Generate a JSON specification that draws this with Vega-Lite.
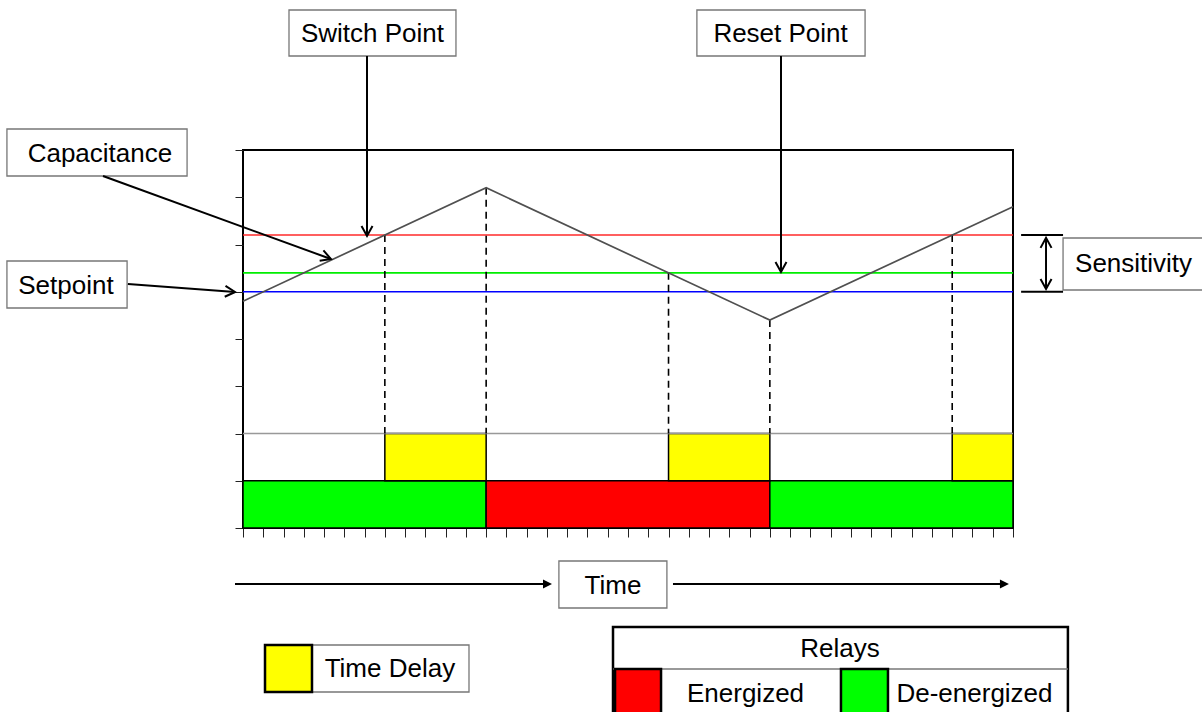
{
  "$schema": "https://vega.github.io/schema/vega-lite/v6.json",
  "width": 770,
  "height": 378,
  "autosize": {"type": "none"},
  "padding": {"left": 243, "top": 150, "right": 189, "bottom": 184},
  "background": "white",
  "config": {
    "view": {"stroke": "black", "strokeWidth": 2}
  },
  "datasets": {
    "curve": [{"t": 0, "c": 4.8}, {"t": 12, "c": 7.2}, {"t": 26, "c": 4.4}, {"t": 38, "c": 6.8}],
    "levels": [
      {"level": "Delay row", "v": 2},
      {"level": "Switch point", "v": 6.2},
      {"level": "Reset point", "v": 5.4},
      {"level": "Setpoint", "v": 5.0}
    ],
    "drops": [
      {"t": 7, "top": 6.2, "bot": 2},
      {"t": 12, "top": 7.2, "bot": 2},
      {"t": 21, "top": 5.4, "bot": 2},
      {"t": 26, "top": 4.4, "bot": 2},
      {"t": 35, "top": 6.2, "bot": 2}
    ],
    "bands": [
      {"t0": 0, "t1": 12, "y0": 0, "y1": 1, "state": "De-energized"},
      {"t0": 12, "t1": 26, "y0": 0, "y1": 1, "state": "Energized"},
      {"t0": 26, "t1": 38, "y0": 0, "y1": 1, "state": "De-energized"},
      {"t0": 7, "t1": 12, "y0": 1, "y1": 2, "state": "Time Delay"},
      {"t0": 21, "t1": 26, "y0": 1, "y1": 2, "state": "Time Delay"},
      {"t0": 35, "t1": 38, "y0": 1, "y1": 2, "state": "Time Delay"}
    ],
    "boxes": [
      {"name": "Switch Point", "x1": 2.27, "x2": 10.51, "y1": 9.989, "y2": 10.963},
      {"name": "Reset Point", "x1": 22.4, "x2": 30.7, "y1": 9.989, "y2": 10.963},
      {"name": "Capacitance", "x1": -11.65, "x2": -2.76, "y1": 7.45, "y2": 8.444},
      {"name": "Setpoint", "x1": -11.65, "x2": -5.72, "y1": 4.656, "y2": 5.651},
      {"name": "Sensitivity", "x1": 40.47, "x2": 47.8, "y1": 5.037, "y2": 6.138},
      {"name": "Time", "x1": 15.59, "x2": 20.92, "y1": -1.693, "y2": -0.698},
      {"name": "Time Delay", "x1": 3.405, "x2": 11.153, "y1": -3.471, "y2": -2.476}
    ],
    "relaybox": [{"x1": 18.26, "x2": 40.71, "y1": -4.0, "y2": -2.095}],
    "divider": [{"x1": 18.26, "x2": 40.71, "y": -2.984}],
    "swatches": [
      {"state": "Time Delay", "x1": 1.086, "x2": 3.405, "y1": -3.471, "y2": -2.476},
      {"state": "Energized", "x1": 18.36, "x2": 20.63, "y1": -4.0, "y2": -2.984},
      {"state": "De-energized", "x1": 29.51, "x2": 31.83, "y1": -4.0, "y2": -2.984}
    ],
    "arrows": [
      {"id": "switch", "x1": 6.12, "y1": 9.989, "x2": 6.12, "y2": 6.18},
      {"id": "reset", "x1": 26.55, "y1": 9.989, "x2": 26.55, "y2": 5.42},
      {"id": "capacitance", "x1": -6.91, "y1": 7.45, "x2": 4.34, "y2": 5.693},
      {"id": "setpoint", "x1": -5.68, "y1": 5.164, "x2": -0.39, "y2": 4.995},
      {"id": "sensitivity", "x1": 39.63, "y1": 6.14, "x2": 39.63, "y2": 5.06},
      {"id": "cap top", "x1": 38.4, "y1": 6.2, "x2": 40.47, "y2": 6.2},
      {"id": "cap bottom", "x1": 38.4, "y1": 5.0, "x2": 40.47, "y2": 5.0},
      {"id": "time left", "x1": -0.395, "y1": -1.185, "x2": 15.0, "y2": -1.185},
      {"id": "time right", "x1": 21.22, "y1": -1.185, "x2": 37.55, "y2": -1.185}
    ],
    "heads": [
      {"kind": "down", "x": 6.12, "y": 6.18},
      {"kind": "down", "x": 26.55, "y": 5.42},
      {"kind": "down", "x": 39.63, "y": 5.06},
      {"kind": "up", "x": 39.63, "y": 6.14},
      {"kind": "capacitance", "x": 4.34, "y": 5.693},
      {"kind": "setpoint", "x": -0.39, "y": 4.995},
      {"kind": "time", "x": 15.25, "y": -1.185},
      {"kind": "time", "x": 37.8, "y": -1.185}
    ],
    "labels": [
      {"text": "Switch Point", "x": 6.39, "y": 10.45},
      {"text": "Reset Point", "x": 26.53, "y": 10.45},
      {"text": "Capacitance", "x": -7.06, "y": 7.92},
      {"text": "Setpoint", "x": -8.74, "y": 5.13},
      {"text": "Sensitivity", "x": 43.95, "y": 5.58},
      {"text": "Time", "x": 18.26, "y": -1.22},
      {"text": "Time Delay", "x": 7.25, "y": -2.99},
      {"text": "Relays", "x": 29.46, "y": -2.57},
      {"text": "Energized", "x": 24.8, "y": -3.52},
      {"text": "De-energized", "x": 36.1, "y": -3.52}
    ]
  },
  "layer": [
    {
      "data": {"name": "bands"},
      "mark": {"type": "rect", "stroke": "black", "strokeWidth": 1.5},
      "encoding": {
        "x": {"field": "t0", "type": "quantitative",
              "scale": {"domain": [0, 38], "nice": false, "zero": false},
              "axis": {"values": [0,1,2,3,4,5,6,7,8,9,10,11,12,13,14,15,16,17,18,19,20,21,22,23,24,25,26,27,28,29,30,31,32,33,34,35,36,37,38],
                       "tickCount": 60, "tickSize": 9, "labels": false, "grid": false, "title": null, "domain": false, "ticks": true, "tickColor": "#222222", "tickWidth": 1}},
        "x2": {"field": "t1"},
        "y": {"field": "y0", "type": "quantitative",
              "scale": {"domain": [0, 8], "nice": false, "zero": false},
              "axis": {"values": [0,1,2,3,4,5,6,7,8], "tickCount": 20, "tickSize": 8, "labels": false, "grid": false, "title": null, "domain": false, "ticks": true, "tickColor": "#222222", "tickWidth": 1}},
        "y2": {"field": "y1"},
        "fill": {"field": "state", "type": "nominal",
                 "scale": {"domain": ["Time Delay", "Energized", "De-energized"], "range": ["#ffff00", "#ff0000", "#00ff00"]},
                 "legend": null}
      }
    },
    {
      "data": {"name": "levels"},
      "mark": {"type": "rule"},
      "encoding": {
        "y": {"field": "v", "type": "quantitative"},
        "stroke": {"field": "level", "type": "nominal",
                   "scale": {"domain": ["Delay row", "Switch point", "Reset point", "Setpoint"], "range": ["#999999", "#ff2a2a", "#00ee00", "#0000ff"]},
                   "legend": null},
        "strokeWidth": {"field": "level", "type": "nominal",
                   "scale": {"domain": ["Delay row", "Switch point", "Reset point", "Setpoint"], "range": [1.5, 1.6, 2.8, 1.8]},
                   "legend": null}
      }
    },
    {
      "data": {"name": "drops"},
      "mark": {"type": "rule", "color": "black", "strokeWidth": 1.6, "strokeDash": [7, 5]},
      "encoding": {
        "x": {"field": "t", "type": "quantitative"},
        "y": {"field": "top", "type": "quantitative"},
        "y2": {"field": "bot"}
      }
    },
    {
      "data": {"name": "curve"},
      "mark": {"type": "line", "color": "#505050", "strokeWidth": 1.7},
      "encoding": {
        "x": {"field": "t", "type": "quantitative"},
        "y": {"field": "c", "type": "quantitative"}
      }
    },
    {
      "data": {"name": "boxes"},
      "mark": {"type": "rect", "fill": "white", "stroke": "#777777", "strokeWidth": 1.3},
      "encoding": {
        "x": {"field": "x1", "type": "quantitative"},
        "x2": {"field": "x2"},
        "y": {"field": "y1", "type": "quantitative"},
        "y2": {"field": "y2"}
      }
    },
    {
      "data": {"name": "relaybox"},
      "mark": {"type": "rect", "fill": "white", "stroke": "black", "strokeWidth": 2.5},
      "encoding": {
        "x": {"field": "x1", "type": "quantitative"},
        "x2": {"field": "x2"},
        "y": {"field": "y1", "type": "quantitative"},
        "y2": {"field": "y2"}
      }
    },
    {
      "data": {"name": "divider"},
      "mark": {"type": "rule", "color": "#777777", "strokeWidth": 1.5},
      "encoding": {
        "x": {"field": "x1", "type": "quantitative"},
        "x2": {"field": "x2"},
        "y": {"field": "y", "type": "quantitative"}
      }
    },
    {
      "data": {"name": "swatches"},
      "mark": {"type": "rect", "stroke": "black", "strokeWidth": 2.5},
      "encoding": {
        "x": {"field": "x1", "type": "quantitative"},
        "x2": {"field": "x2"},
        "y": {"field": "y1", "type": "quantitative"},
        "y2": {"field": "y2"},
        "fill": {"field": "state", "type": "nominal", "legend": null}
      }
    },
    {
      "data": {"name": "arrows"},
      "mark": {"type": "rule", "color": "black", "strokeWidth": 2},
      "encoding": {
        "x": {"field": "x1", "type": "quantitative"},
        "y": {"field": "y1", "type": "quantitative"},
        "x2": {"field": "x2"},
        "y2": {"field": "y2"}
      }
    },
    {
      "data": {"name": "heads"},
      "transform": [{"filter": "datum.kind === 'down'"}],
      "mark": {"type": "point", "shape": "M-1,-0.55L0,0L-1,0.55", "filled": false, "color": "black", "opacity": 1, "strokeWidth": 2, "size": 400, "angle": 90},
      "encoding": {
        "x": {"field": "x", "type": "quantitative"},
        "y": {"field": "y", "type": "quantitative"}
      }
    },
    {
      "data": {"name": "heads"},
      "transform": [{"filter": "datum.kind === 'up'"}],
      "mark": {"type": "point", "shape": "M-1,-0.55L0,0L-1,0.55", "filled": false, "color": "black", "opacity": 1, "strokeWidth": 2, "size": 400, "angle": 270},
      "encoding": {
        "x": {"field": "x", "type": "quantitative"},
        "y": {"field": "y", "type": "quantitative"}
      }
    },
    {
      "data": {"name": "heads"},
      "transform": [{"filter": "datum.kind === 'capacitance'"}],
      "mark": {"type": "point", "shape": "M-1,-0.55L0,0L-1,0.55", "filled": false, "color": "black", "opacity": 1, "strokeWidth": 2, "size": 400, "angle": 20},
      "encoding": {
        "x": {"field": "x", "type": "quantitative"},
        "y": {"field": "y", "type": "quantitative"}
      }
    },
    {
      "data": {"name": "heads"},
      "transform": [{"filter": "datum.kind === 'setpoint'"}],
      "mark": {"type": "point", "shape": "M-1,-0.55L0,0L-1,0.55", "filled": false, "color": "black", "opacity": 1, "strokeWidth": 2, "size": 400, "angle": 4},
      "encoding": {
        "x": {"field": "x", "type": "quantitative"},
        "y": {"field": "y", "type": "quantitative"}
      }
    },
    {
      "data": {"name": "heads"},
      "transform": [{"filter": "datum.kind === 'time'"}],
      "mark": {"type": "point", "shape": "M-1,-0.5L0,0L-1,0.5Z", "filled": true, "color": "black", "opacity": 1, "size": 324},
      "encoding": {
        "x": {"field": "x", "type": "quantitative"},
        "y": {"field": "y", "type": "quantitative"}
      }
    },
    {
      "data": {"name": "labels"},
      "mark": {"type": "text", "font": "Liberation Sans", "fontSize": 26, "color": "black", "align": "center", "baseline": "middle"},
      "encoding": {
        "x": {"field": "x", "type": "quantitative"},
        "y": {"field": "y", "type": "quantitative"},
        "text": {"field": "text", "type": "nominal"}
      }
    }
  ]
}
